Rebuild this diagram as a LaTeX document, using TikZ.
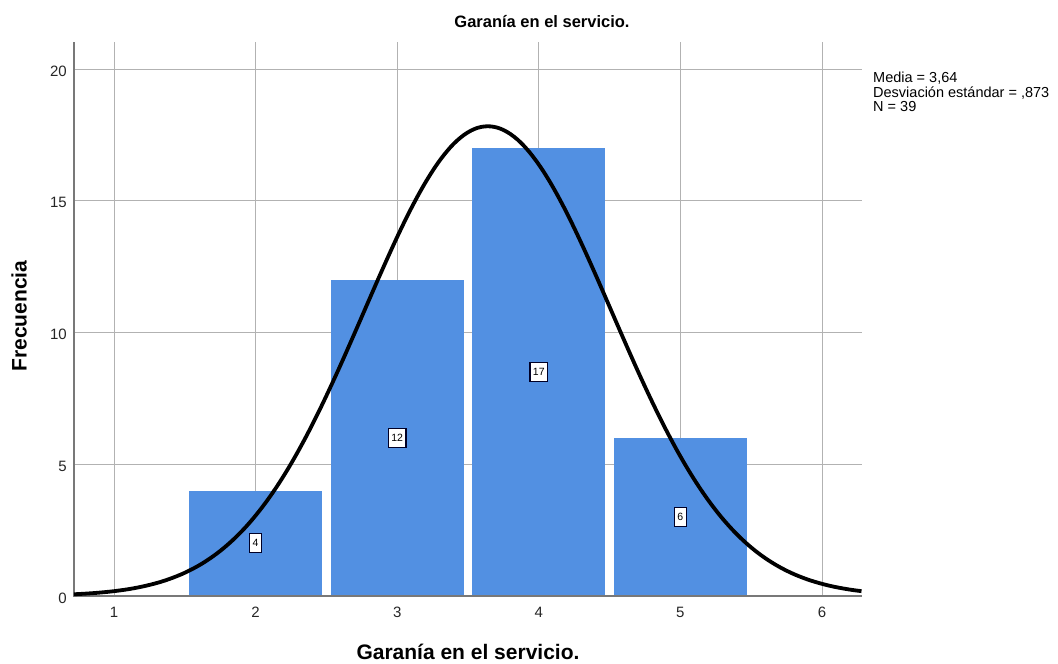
\documentclass[tikz,border=0pt]{standalone}
\usepackage{fontspec}
\setmainfont{Liberation Sans}
\definecolor{barblue}{RGB}{82,144,226}
\definecolor{gridgray}{RGB}{178,178,178}
\definecolor{axisgray}{RGB}{120,120,120}
\tikzset{
    countbox/.style={draw=black!85!blue, fill=white, line width=1.3pt, inner xsep=3pt, inner ysep=0pt, minimum height=19pt, minimum width=12pt, font=\fontsize{10.5}{11}\selectfont},
    ticklbl/.style={inner sep=0pt, font=\fontsize{15}{17}\selectfont, text=black!85},
    axislbl/.style={font=\bfseries\fontsize{21}{24}\selectfont}
}
\begin{document}
\begin{tikzpicture}
    \useasboundingbox (0,0) rectangle (1058pt,664pt);
    \fill[white] (0,0) rectangle (1058pt,664pt);

    \node[font=\bfseries\fontsize{16.5}{19}\selectfont] (title) at (542pt,642pt) {Garanía en el servicio.};
    \node[axislbl] (xlbl) at (468pt,12pt) {Garanía en el servicio.};
    \node[axislbl, rotate=90] (ylbl) at (19pt,348pt) {Frecuencia};

    \begin{scope}[shift={(-27.6pt,68pt)}, x=141.6pt, y=26.35pt]
        % grid
        \draw[gridgray, line width=0.9pt] (0.717,5) -- (6.28,5);
        \draw[gridgray, line width=0.9pt] (0.717,10) -- (6.28,10);
        \draw[gridgray, line width=0.9pt] (0.717,15) -- (6.28,15);
        \draw[gridgray, line width=0.9pt] (0.717,20) -- (6.28,20);
        \draw[gridgray, line width=0.9pt] (1,0) -- (1,21.02);
        \draw[gridgray, line width=0.9pt] (2,0) -- (2,21.02);
        \draw[gridgray, line width=0.9pt] (3,0) -- (3,21.02);
        \draw[gridgray, line width=0.9pt] (4,0) -- (4,21.02);
        \draw[gridgray, line width=0.9pt] (5,0) -- (5,21.02);
        \draw[gridgray, line width=0.9pt] (6,0) -- (6,21.02);

        % bars
        \fill[barblue] (1.53,0) rectangle (2.47,4);
        \fill[barblue] (2.53,0) rectangle (3.47,12);
        \fill[barblue] (3.53,0) rectangle (4.47,17);
        \fill[barblue] (4.53,0) rectangle (5.47,6);

        % axes
        \draw[axisgray, line width=1.2pt] (0.717,21.02) -- (0.717,0) -- (6.28,0);

        % normal curve
        \draw[black, line width=3.8pt, smooth, samples=120, domain=0.717:6.28]
            plot (\x, {39/(0.873*sqrt(2*pi))*exp(-((\x-3.64)^2)/(2*0.873^2))});

        % counts
        \node[countbox] (c2) at (2,2) {4};
        \node[countbox] (c3) at (3,6) {12};
        \node[countbox] (c4) at (4,8.5) {17};
        \node[countbox] (c5) at (5,3) {6};

        % tick labels
        \node[ticklbl, anchor=east] (y0) at (0.668,-0.08) {0};
        \node[ticklbl, anchor=east] (y5) at (0.668,4.92) {5};
        \node[ticklbl, anchor=east] (y10) at (0.668,9.92) {10};
        \node[ticklbl, anchor=east] (y15) at (0.668,14.92) {15};
        \node[ticklbl, anchor=east] (y20) at (0.668,19.92) {20};
        \node[ticklbl] (x1) at (1,-0.62) {1};
        \node[ticklbl] (x2) at (2,-0.62) {2};
        \node[ticklbl] (x3) at (3,-0.62) {3};
        \node[ticklbl] (x4) at (4,-0.62) {4};
        \node[ticklbl] (x5) at (5,-0.62) {5};
        \node[ticklbl] (x6) at (6,-0.62) {6};
    \end{scope}

    % statistics
    \node[anchor=north west, align=left, inner sep=0pt, font=\fontsize{14.5}{14.5}\selectfont] (stats) at (873pt,592pt)
        {Media = 3,64\\Desviación estándar = ,873\\N = 39};
\end{tikzpicture}
\end{document}
